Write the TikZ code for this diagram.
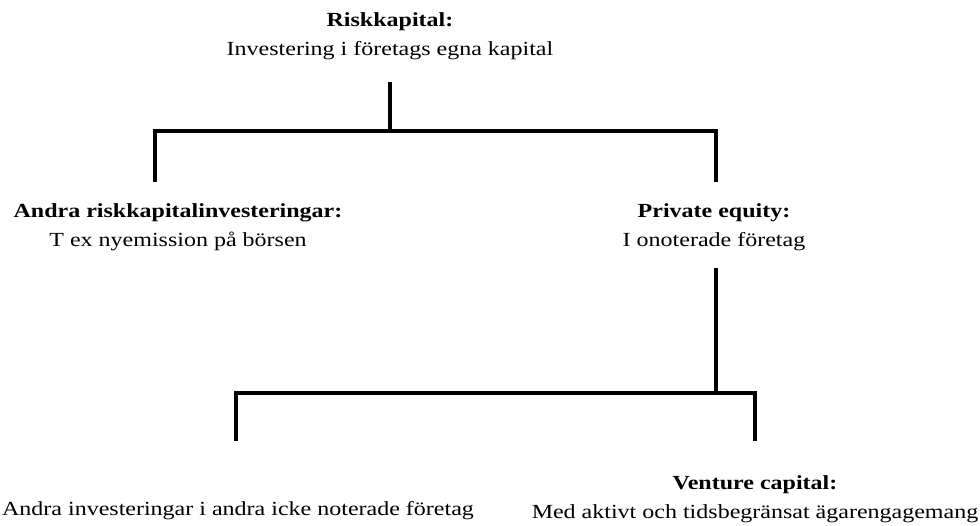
\documentclass[tikz,border=0pt]{standalone}
\usepackage{fontspec}
\setmainfont[FakeStretch=1.2]{Liberation Serif}
\begin{document}
\begin{tikzpicture}[x=1pt,y=-1pt,
  lbl/.style={align=center,inner sep=0pt,font=\fontsize{20}{29}\selectfont},
  conn/.style={line width=4.5pt}]
\useasboundingbox (0,0) rectangle (980,525);
\node[lbl] (risk) at (390,36) {\textbf{Riskkapital:}\\Investering i företags egna kapital};
\node[lbl] (andra) at (178,227) {\textbf{Andra riskkapitalinvesteringar:}\\T ex nyemission på börsen};
\node[lbl] (pe) at (714,227) {\textbf{Private equity:}\\I onoterade företag};
\node[lbl] (other) at (238,511) {Andra investeringar i andra icke noterade företag};
\node[lbl] (vc) at (755,499) {\textbf{Venture capital:}\\Med aktivt och tidsbegränsat ägarengagemang};
\coordinate (t1) at (390,82);
\coordinate (b1) at (390,131);
\coordinate (a1) at (155,182);
\coordinate (a2) at (716,182);
\coordinate (p1) at (716,268);
\coordinate (b2) at (716,393);
\coordinate (c1) at (236,441);
\coordinate (c2) at (755,441);
\draw[conn] (t1) -- (b1);
\draw[conn] (a1) |- (b1) -| (a2);
\draw[conn] (p1) -- (b2);
\draw[conn] (c1) |- (b2) -| (c2);
\end{tikzpicture}
\end{document}
